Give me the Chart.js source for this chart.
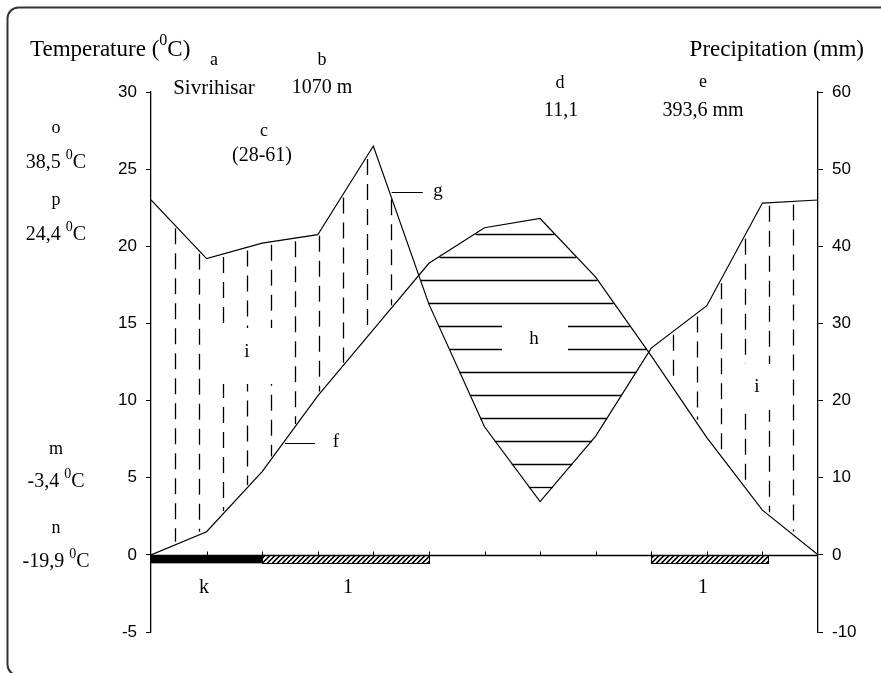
<!DOCTYPE html>
<html>
<head>
<meta charset="utf-8">
<title>Sivrihisar - climate diagram</title>
<script src="https://cdn.jsdelivr.net/npm/chart.js@4.4.1/dist/chart.umd.min.js"></script>
<style>
  html, body { margin: 0; padding: 0; background: #fff; overflow: hidden; }
  #wrap { width: 881px; height: 673px; }
</style>
</head>
<body>
<div id="wrap"><canvas id="climate" width="881" height="673"></canvas></div>
<script>
Chart.defaults.color = '#000';
Chart.defaults.font.family = "'Liberation Sans', Arial, sans-serif";

// month positions across the year (0 = start of year, 12 = end)
const months = [0, 1, 2, 3, 4, 5, 6, 7, 8, 9, 10, 11, 12];
// mean temperature (°C), left axis
const temperature = [0, 1.5, 5.4, 10.3, 14.6, 18.9, 21.2, 21.8, 18.0, 12.9, 7.6, 2.9, 0];
// precipitation (mm), right axis
const precipitation = [46.0, 38.4, 40.4, 41.5, 53.0, 32.5, 16.6, 6.9, 15.4, 26.8, 32.3, 45.6, 46.0];

// axis tick values
const tempTicks = [-5, 0, 5, 10, 15, 20, 25, 30];
const precTicks = [-10, 0, 10, 20, 30, 40, 50, 60];

// frost periods along the month axis
const frostSure = [[0, 2]];                 // k : black bar
const frostProbable = [[2, 5], [9, 11.1]];  // l : hatched bars

// station data
const stationKeys = ['a', 'b', 'c', 'd', 'e'];
const stationVals = ['Sivrihisar', '1070 m', '(28-61)', '11,1', '393,6 mm'];
const extremeKeys = ['o', 'p', 'm', 'n'];
const extremeVals = ['38,5 ^0C', '24,4 ^0C', '-3,4 ^0C', '-19,9 ^0C'];

const SERIF = "'Liberation Serif', 'Times New Roman', serif";

// text with "^x" meaning x is written as superscript
function drawRich(ctx, str, x, y, size, align) {
  const parts = [];
  str.split('^').forEach((seg, i) => {
    if (i === 0) { if (seg) parts.push({ t: seg, sup: false }); return; }
    parts.push({ t: seg[0], sup: true });
    if (seg.length > 1) parts.push({ t: seg.slice(1), sup: false });
  });
  const supSize = Math.round(size * 0.68);
  let w = 0;
  parts.forEach(p => {
    ctx.font = (p.sup ? supSize : size) + 'px ' + SERIF;
    p.w = ctx.measureText(p.t).width;
    w += p.w;
  });
  let sx = align === 'left' ? x : align === 'right' ? x - w : x - w / 2;
  ctx.textAlign = 'left';
  ctx.textBaseline = 'middle';
  ctx.fillStyle = '#000';
  parts.forEach(p => {
    ctx.font = (p.sup ? supSize : size) + 'px ' + SERIF;
    ctx.fillText(p.t, sx, p.sup ? y - size * 0.38 : y);
    sx += p.w;
  });
}

function curvePixels(chart) {
  const xs = chart.scales.x, yt = chart.scales.yT, yp = chart.scales.yP;
  return months.map((m, i) => ({
    x: xs.getPixelForValue(m),
    t: yt.getPixelForValue(temperature[i]),
    p: yp.getPixelForValue(precipitation[i])
  }));
}

function valueAt(pts, x) {
  for (let i = 0; i < pts.length - 1; i++) {
    const a = pts[i], b = pts[i + 1];
    if (x >= a.x && x <= b.x) {
      const f = (x - a.x) / (b.x - a.x);
      return { t: a.t + f * (b.t - a.t), p: a.p + f * (b.p - a.p) };
    }
  }
  return null;
}

// split the year into humid (precip above temp) and arid parts
function splitRegions(pts) {
  const out = [];
  let start = pts[0].x;
  let wet = pts[0].p < pts[0].t;
  for (let i = 0; i < pts.length - 1; i++) {
    const a = pts[i], b = pts[i + 1];
    const da = a.p - a.t, db = b.p - b.t;
    if ((da < 0) !== (db < 0)) {
      const f = da / (da - db);
      const cx = a.x + f * (b.x - a.x);
      out.push({ x0: start, x1: cx, wet });
      start = cx;
      wet = !wet;
    }
  }
  out.push({ x0: start, x1: pts[pts.length - 1].x, wet });
  return out;
}

const hatchPlugin = {
  id: 'hatch',
  beforeDatasetsDraw(chart) {
    const ctx = chart.ctx;
    const pts = curvePixels(chart);
    const regs = splitRegions(pts);
    ctx.save();
    ctx.strokeStyle = '#000';
    ctx.lineWidth = 1.3;
    regs.forEach(r => {
      if (r.wet) {
        // vertical dashed lines
        ctx.setLineDash([16, 9]);
        for (let x = r.x0 + 24; x < r.x1 - 6; x += 24) {
          const v = valueAt(pts, x);
          const px = Math.round(x) + 0.5;
          ctx.beginPath();
          ctx.moveTo(px, v.p + 3);
          ctx.lineTo(px, v.t - 3);
          ctx.stroke();
        }
        ctx.setLineDash([]);
      } else {
        // horizontal lines inside the arid polygon
        const poly = [];
        const s = valueAt(pts, r.x0), e = valueAt(pts, r.x1);
        poly.push({ x: r.x0, y: s.t });
        pts.filter(p => p.x > r.x0 && p.x < r.x1).forEach(p => poly.push({ x: p.x, y: p.t }));
        poly.push({ x: r.x1, y: e.t });
        pts.filter(p => p.x > r.x0 && p.x < r.x1).reverse().forEach(p => poly.push({ x: p.x, y: p.p }));
        const top = Math.min(...poly.map(p => p.y));
        const bot = Math.max(...poly.map(p => p.y));
        for (let y = top + 15; y < bot - 8; y += 23) {
          const xsec = [];
          for (let i = 0; i < poly.length; i++) {
            const a = poly[i], b = poly[(i + 1) % poly.length];
            if ((a.y - y) * (b.y - y) < 0) xsec.push(a.x + (y - a.y) / (b.y - a.y) * (b.x - a.x));
          }
          xsec.sort((m, n) => m - n);
          const py = Math.round(y) + 0.5;
          for (let k = 0; k + 1 < xsec.length; k += 2) {
            ctx.beginPath();
            ctx.moveTo(xsec[k], py);
            ctx.lineTo(xsec[k + 1], py);
            ctx.stroke();
          }
        }
      }
    });
    // clear space for the region letters
    ctx.fillStyle = '#fff';
    ctx.fillRect(217, 328, 60, 56);
    ctx.fillRect(502, 317, 66, 44);
    ctx.fillRect(737, 364, 40, 46);
    ctx.restore();
  },
  afterDraw(chart) {
    const ctx = chart.ctx;
    const xs = chart.scales.x, yt = chart.scales.yT;
    const area = chart.chartArea;
    const y0 = Math.round(yt.getPixelForValue(0)) + 0.5;
    const yb = yt.getPixelForValue(-0.55);
    ctx.save();

    // frost bars
    ctx.strokeStyle = '#000';
    ctx.lineWidth = 1;
    frostSure.forEach(([a, b]) => {
      const xa = xs.getPixelForValue(a), xb = xs.getPixelForValue(b);
      ctx.fillStyle = '#000';
      ctx.fillRect(xa, y0, xb - xa, yb - y0);
    });
    frostProbable.forEach(([a, b]) => {
      const xa = xs.getPixelForValue(a), xb = xs.getPixelForValue(b);
      ctx.save();
      ctx.beginPath();
      ctx.rect(xa, y0, xb - xa, yb - y0);
      ctx.clip();
      ctx.lineWidth = 1.6;
      for (let x = xa - 20; x < xb + 20; x += 5) {
        ctx.beginPath();
        ctx.moveTo(x, yb);
        ctx.lineTo(x + (yb - y0), y0);
        ctx.stroke();
      }
      ctx.restore();
      ctx.strokeRect(Math.round(xa) + 0.5, y0, Math.round(xb - xa), Math.round(yb - y0));
    });

    // month axis with small ticks
    ctx.beginPath();
    ctx.moveTo(area.left, y0);
    ctx.lineTo(area.right, y0);
    ctx.lineWidth = 1.3;
    ctx.stroke();
    ctx.lineWidth = 1;
    months.slice(1, -1).forEach(m => {
      const x = Math.round(xs.getPixelForValue(m)) + 0.5;
      ctx.beginPath();
      ctx.moveTo(x, y0);
      ctx.lineTo(x, y0 - 4);
      ctx.stroke();
    });

    // pointer lines for f and g
    const gx0 = xs.getPixelForValue(4.33), gx1 = xs.getPixelForValue(4.89), gy = Math.round(yt.getPixelForValue(23.5)) + 0.5;
    const fx0 = xs.getPixelForValue(2.41), fx1 = xs.getPixelForValue(2.95), fy = Math.round(yt.getPixelForValue(7.26)) + 0.5;
    ctx.beginPath();
    ctx.moveTo(gx0, gy); ctx.lineTo(gx1, gy);
    ctx.moveTo(fx0, fy); ctx.lineTo(fx1, fy);
    ctx.stroke();

    // titles and station data
    drawRich(ctx, 'Temperature (^0C)', 30, 50, 23, 'left');
    drawRich(ctx, 'Precipitation (mm)', 864, 50, 23, 'right');
    const keyPos = [[214, 60], [322, 60], [264, 131], [560, 83], [703, 82]];
    const valPos = [[214, 88], [322, 88], [262, 156], [561, 111], [703, 111]];
    stationKeys.forEach((k, i) => {
      drawRich(ctx, k, keyPos[i][0], keyPos[i][1], 18, 'center');
      drawRich(ctx, stationVals[i], valPos[i][0], valPos[i][1], i === 0 ? 21 : 20, 'center');
    });
    const exY = [[128, 163], [200, 235], [449, 482], [528, 562]];
    extremeKeys.forEach((k, i) => {
      drawRich(ctx, k, 56, exY[i][0], 18, 'center');
      drawRich(ctx, extremeVals[i], 56, exY[i][1], 20, 'center');
    });

    // in-chart letters
    drawRich(ctx, 'g', 438, 191, 19, 'center');
    drawRich(ctx, 'f', 336, 442, 19, 'center');
    drawRich(ctx, 'i', 247, 352, 19, 'center');
    drawRich(ctx, 'h', 534, 339, 19, 'center');
    drawRich(ctx, 'i', 757, 387, 19, 'center');
    drawRich(ctx, 'k', 204, 588, 20, 'center');
    drawRich(ctx, '1', 348, 588, 20, 'center');
    drawRich(ctx, '1', 703, 588, 20, 'center');

    // outer rounded frame
    ctx.beginPath();
    ctx.roundRect(7.5, 7.5, 920, 668, 11);
    ctx.lineWidth = 2;
    ctx.strokeStyle = '#333';
    ctx.stroke();
    ctx.restore();
  }
};

const axisStyle = {
  grid: { display: true, drawOnChartArea: false, drawTicks: true, tickLength: 5, color: '#000', lineWidth: 1 },
  border: { display: true, color: '#000', width: 1.3 }
};

new Chart(document.getElementById('climate'), {
  type: 'line',
  data: {
    datasets: [
      {
        label: 'Temperature',
        data: months.map((m, i) => ({ x: m, y: temperature[i] })),
        yAxisID: 'yT',
        borderColor: '#000',
        borderWidth: 1.2,
        pointRadius: 0,
        tension: 0,
        fill: false
      },
      {
        label: 'Precipitation',
        data: months.map((m, i) => ({ x: m, y: precipitation[i] })),
        yAxisID: 'yP',
        borderColor: '#000',
        borderWidth: 1.2,
        pointRadius: 0,
        tension: 0,
        fill: false
      }
    ]
  },
  options: {
    responsive: false,
    animation: false,
    layout: { padding: { top: 92, bottom: 41, left: 0, right: 0 } },
    plugins: { legend: { display: false }, tooltip: { enabled: false } },
    scales: {
      x: { type: 'linear', min: months[0], max: months[months.length - 1], display: false },
      yT: {
        position: 'left',
        min: tempTicks[0],
        max: tempTicks[tempTicks.length - 1],
        ticks: { stepSize: tempTicks[1] - tempTicks[0], padding: 9, font: { size: 17 }, color: '#000' },
        afterFit: s => { s.width = 151; },
        ...axisStyle
      },
      yP: {
        position: 'right',
        min: precTicks[0],
        max: precTicks[precTicks.length - 1],
        ticks: { stepSize: precTicks[1] - precTicks[0], padding: 9, font: { size: 17 }, color: '#000' },
        afterFit: s => { s.width = 63; },
        ...axisStyle
      }
    }
  },
  plugins: [hatchPlugin]
});
</script>
</body>
</html>
